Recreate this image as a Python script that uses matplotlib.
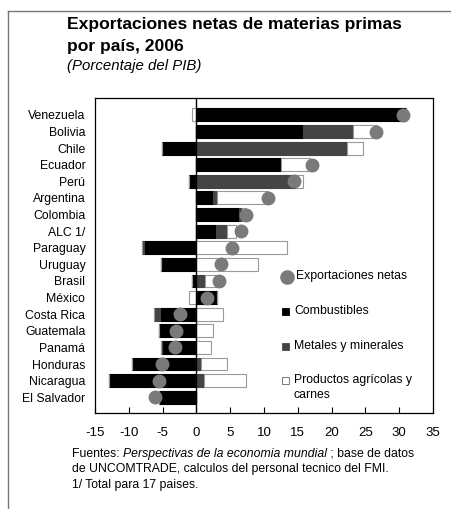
import numpy as np
import matplotlib
matplotlib.use("Agg")
import matplotlib.pyplot as plt
from matplotlib.patches import Rectangle
from matplotlib.lines import Line2D

plt.rcParams['font.family'] = ['Liberation Sans', 'DejaVu Sans']

COUNTRIES = ["Venezuela", "Bolivia", "Chile", "Ecuador", "Perú", "Argentina",
             "Colombia", "ALC 1/", "Paraguay", "Uruguay", "Brasil", "México",
             "Costa Rica", "Guatemala", "Panamá", "Honduras", "Nicaragua",
             "El Salvador"]
FUEL = [31.0, 15.8, -5.1, 12.5, -1.1, 2.5, 6.3, 2.9, -7.7, -5.3, -0.7, 3.0,
        -5.4, -5.5, -5.1, -9.5, -13.0, -5.6]
METALS = [0.0, 7.3, 22.3, 0.0, 14.7, 0.6, 0.4, 1.7, -0.4, 0.0, 1.3, 0.0,
          -0.8, -0.1, -0.1, 0.7, 1.1, 0.0]
AGRI = [-0.7, 3.6, 2.4, 4.3, 1.0, 7.5, 0.7, 1.3, 13.4, 9.1, 1.7, -1.1,
        3.9, 2.4, 2.2, 3.9, 6.3, 0.0]
NET = [30.6, 26.6, np.nan, 17.1, 14.5, 10.6, 7.4, 6.6, 5.3, 3.6, 3.4, 1.6,
       -2.4, -3.0, -3.1, -5.1, -5.6, -6.1]
XTICKS = list(range(-15, 36, 5))

DOT_COLOR = '#7a7a7a'
METAL_COLOR = '#444444'
EDGE_GREY = '#999999'

fig = plt.figure(figsize=(4.52, 5.09), dpi=100)
W, H = 452, 509


def fx(px):
    return px / W


def fy(py):
    return 1 - py / H


ax = fig.add_axes([fx(95), fy(413), fx(433) - fx(95), fy(98) - fy(413)])

y = np.arange(len(COUNTRIES))
pos_left = np.zeros(len(COUNTRIES))
neg_left = np.zeros(len(COUNTRIES))
series = [(FUEL, 'black', 'black'), (METALS, METAL_COLOR, METAL_COLOR),
          (AGRI, 'white', EDGE_GREY)]
for vals, color, edge in series:
    v = np.array(vals)
    pos = np.where(v > 0, v, 0)
    neg = np.where(v < 0, v, 0)
    ax.barh(y, pos, left=pos_left, height=0.78, color=color, edgecolor=edge,
            linewidth=0.8, zorder=2)
    ax.barh(y, neg, left=neg_left, height=0.78, color=color, edgecolor=edge,
            linewidth=0.8, zorder=2)
    pos_left += pos
    neg_left += neg

ax.plot(NET, y, 'o', color=DOT_COLOR, markersize=9, zorder=4, linestyle='none')
ax.axvline(0, color='black', linewidth=1.0, zorder=3)

ax.set_xlim(-15, 35)
ax.set_ylim(17.95, -1.02)
ax.set_xticks(XTICKS)
ax.set_xticklabels([str(t) for t in XTICKS], fontsize=9.5)
ax.tick_params(axis='x', direction='in', length=4, pad=10, width=0.8)
ax.set_yticks(y)
ax.set_yticklabels(COUNTRIES, fontsize=8.8)
ax.tick_params(axis='y', length=0, pad=7)
for s in ax.spines.values():
    s.set_linewidth(0.9)

# legend, drawn by hand
def ax_xy(px, py):
    return (px - 95) / 338, (413 - py) / 315


lx, ly = ax_xy(287, 277)
ax.plot([lx], [ly], 'o', color=DOT_COLOR, markersize=9.5, transform=ax.transAxes,
        clip_on=False, zorder=5)
tx, ty = ax_xy(296, 276)
ax.text(tx, ty, "Exportaciones netas", transform=ax.transAxes, fontsize=8.8,
        va='center', ha='left')

legend_items = [(311, 'black', 'black', "Combustibles"),
                (346, METAL_COLOR, METAL_COLOR, "Metales y minerales"),
                (380, 'white', '#666666', "Productos agrícolas y")]
for py, color, edge, label in legend_items:
    x0, y0 = ax_xy(282, py + 4)
    ax.add_patch(Rectangle((x0, y0), 7.5 / 338, 7.5 / 315, transform=ax.transAxes,
                           facecolor=color, edgecolor=edge, linewidth=0.6, zorder=5))
    tx, ty = ax_xy(294, py)
    ax.text(tx, ty, label, transform=ax.transAxes, fontsize=8.8, va='center', ha='left')
tx, ty = ax_xy(294, 395)
ax.text(tx, ty, "carnes", transform=ax.transAxes, fontsize=8.8, va='center', ha='left')

# titles
fig.text(fx(67), fy(25), "Exportaciones netas de materias primas", fontsize=12.6,
         fontweight='bold', va='center', ha='left')
fig.text(fx(67), fy(46), "por país, 2006", fontsize=12.6, fontweight='bold',
         va='center', ha='left')
fig.text(fx(67), fy(66), "(Porcentaje del PIB)", fontsize=10.8, style='italic',
         va='center', ha='left')

# footnote with an italic part
fig.canvas.draw()
renderer = fig.canvas.get_renderer()
x = fx(72)
parts = [("Fuentes: ", 'normal'), ("Perspectivas de la economia mundial", 'italic'),
         (" ; base de datos", 'normal')]
for txt, st in parts:
    t = fig.text(x, fy(454), txt, fontsize=8.8, style=st, va='center', ha='left')
    bb = t.get_window_extent(renderer)
    x += bb.width / W
fig.text(fx(72), fy(469), "de UNCOMTRADE, calculos del personal tecnico del FMI.",
         fontsize=8.8, va='center', ha='left')
fig.text(fx(72), fy(485), "1/ Total para 17 paises.", fontsize=8.8, va='center', ha='left')

# outer frame
fig.add_artist(Line2D([fx(8), fx(8)], [fy(11), 0], color='#777777', linewidth=1.0))
fig.add_artist(Line2D([fx(8), 1], [fy(11), fy(11)], color='#777777', linewidth=1.0))

fig.savefig("out.png", dpi=100)
